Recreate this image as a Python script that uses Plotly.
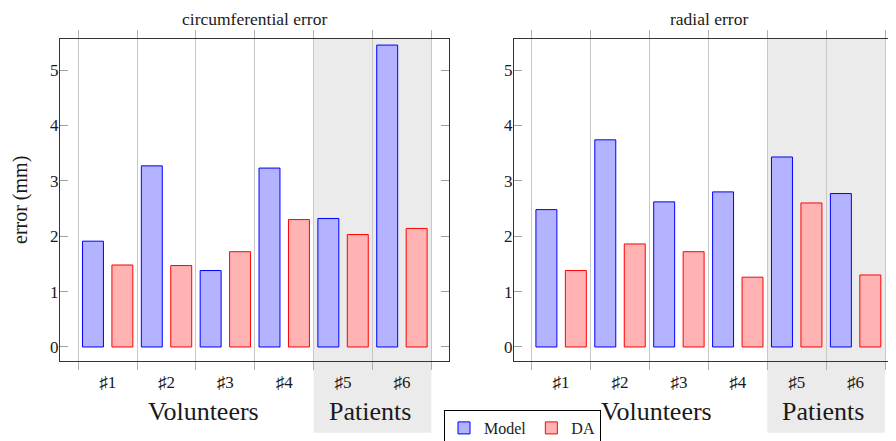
import plotly.graph_objects as go

categories = ["♯1", "♯2", "♯3", "♯4", "♯5", "♯6"]
circ_model = [1.91, 3.27, 1.38, 3.23, 2.32, 5.45]
circ_da = [1.48, 1.47, 1.72, 2.30, 2.03, 2.14]
rad_model = [2.48, 3.74, 2.62, 2.80, 3.43, 2.77]
rad_da = [1.38, 1.86, 1.72, 1.26, 2.60, 1.30]
series_names = ["Model", "DA"]
panel_titles = ["circumferential error", "radial error"]
group_labels = ["Volunteers", "Patients"]
y_label = "error (mm)"

FONT = "Liberation Serif"
TXT = "#1a1a1a"
BLUE_FILL, BLUE_LINE = "#b3b3ff", "#0000ff"
RED_FILL, RED_LINE = "#ffb3b3", "#ff0000"

# page has an 8px body margin; figure is sized so it ends at the window edge
W, H = 888, 433
L, T, B = 52, 31, 80
PW = W - L  # 836
PH = H - T - B  # 322

fig = go.Figure()

panels = [(circ_model, circ_da, "x", "y"), (rad_model, rad_da, "x2", "y2")]
for i, (m, d, xa, ya) in enumerate(panels):
    fig.add_trace(go.Bar(x=categories, y=m, name=series_names[0], xaxis=xa, yaxis=ya,
                         width=0.356, offset=-0.428,
                         marker=dict(color=BLUE_FILL, line=dict(color=BLUE_LINE, width=1)),
                         showlegend=(i == 0), legendgroup="m"))
    fig.add_trace(go.Bar(x=categories, y=d, name=series_names[1], xaxis=xa, yaxis=ya,
                         width=0.356, offset=0.072,
                         marker=dict(color=RED_FILL, line=dict(color=RED_LINE, width=1)),
                         showlegend=(i == 0), legendgroup="d"))

xcommon = dict(type="category", tickson="boundaries", showgrid=True, gridcolor="#c8c8c8",
               gridwidth=1, ticks="outside", ticklen=8, tickcolor="#b0b0b0",
               showline=True, linecolor="#333333", linewidth=1, mirror="ticks",
               ticklabelstandoff=6,
               tickfont=dict(family=FONT, size=17, color=TXT), zeroline=False,
               automargin=False)
ycommon = dict(range=[-0.253, 5.56], tickvals=[0, 1, 2, 3, 4, 5], showgrid=False,
               ticks="inside", ticklen=8, tickcolor="#a0a0a0", showline=True,
               linecolor="#333333", linewidth=1, zeroline=False, automargin=False,
               ticklabelstandoff=-3,
               tickfont=dict(family=FONT, size=17, color=TXT))

fig.update_layout(
    width=W, height=H,
    margin=dict(l=L, r=0, t=T, b=B),
    paper_bgcolor="white", plot_bgcolor="rgba(0,0,0,0)",
    barmode="overlay",
    xaxis=dict(domain=[0, 389 / PW], range=[-0.81, 5.80], **xcommon),
    xaxis2=dict(domain=[454 / PW, 1], range=[-0.80, 5.686], anchor="y2", **xcommon),
    yaxis=dict(anchor="x", mirror="ticks", **ycommon),
    yaxis2=dict(anchor="x2", mirror=False, **ycommon),
    legend=dict(orientation="h", xref="container", yref="container",
                x=(444 - 8) / W, xanchor="left", y=1 - (410 - 8) / H, yanchor="top",
                bordercolor="#000", borderwidth=1, bgcolor="white",
                font=dict(family=FONT, size=16, color=TXT),
                itemwidth=30, tracegroupgap=0),
    showlegend=True,
)

shapes = []
annotations = []
for xa in ("x", "x2"):
    shapes.append(dict(type="rect", xref=xa, yref="paper",
                       x0=categories[4], x0shift=-0.5, x1=categories[5], x1shift=0.5,
                       y0=-0.2227, y1=1,
                       fillcolor="#ebebeb", line=dict(width=0), layer="below"))
    annotations.append(dict(xref=xa, yref="paper", x=1.62, y=-0.158, text=group_labels[0],
                            showarrow=False, xanchor="center", yanchor="middle",
                            font=dict(family=FONT, size=26, color=TXT)))
    annotations.append(dict(xref=xa, yref="paper", x=4.45, y=-0.158, text=group_labels[1],
                            showarrow=False, xanchor="center", yanchor="middle",
                            font=dict(family=FONT, size=26, color=TXT)))

title_y = (361 - 19) / PH  # centre at page y = 19
for title, cx in zip(panel_titles, (254.5, 708.5)):
    annotations.append(dict(xref="paper", yref="paper", x=(cx - 60) / PW, y=title_y,
                            text=title, showarrow=False,
                            xanchor="center", yanchor="middle",
                            font=dict(family=FONT, size=17.5, color=TXT)))
annotations.append(dict(xref="paper", yref="paper", x=(20 - 60) / PW, y=0.5,
                        text=y_label, textangle=-90, showarrow=False,
                        xanchor="center", yanchor="middle",
                        font=dict(family=FONT, size=20, color=TXT)))

fig.update_layout(shapes=shapes, annotations=annotations)
fig.write_html("out.html")
